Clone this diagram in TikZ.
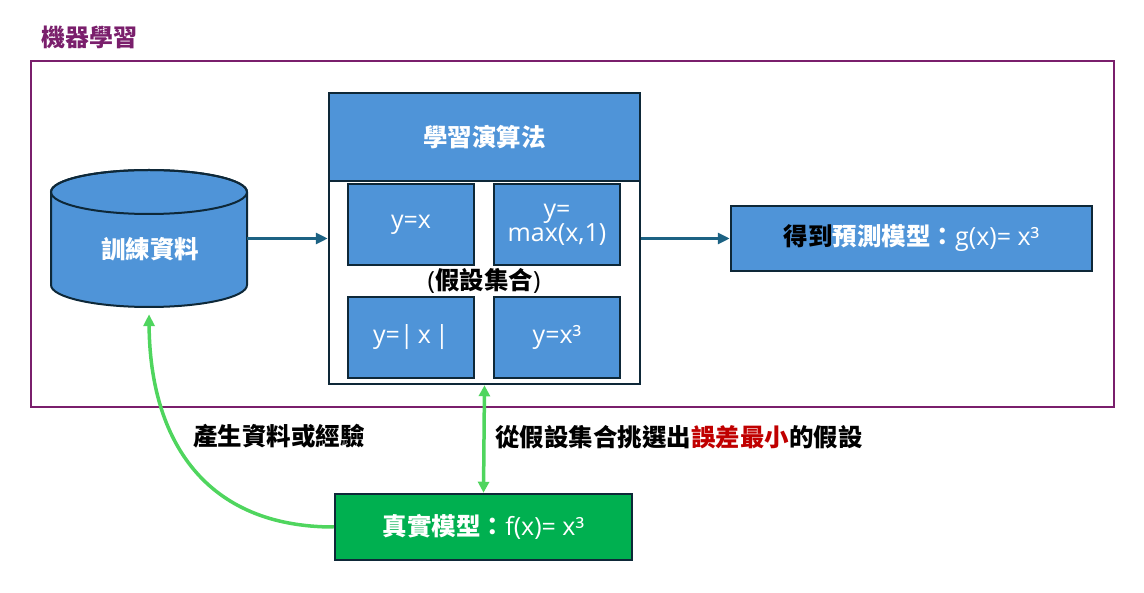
\documentclass[tikz,border=0pt]{standalone}
\usepackage{fontspec}
\setmainfont{Open Sans}
\newfontfamily\cjk{Noto Sans CJK TC}
\usetikzlibrary{arrows.meta,calc}
\definecolor{boxblue}{HTML}{4F94D8}
\definecolor{outl}{HTML}{0E2838}
\definecolor{purp}{HTML}{7A1F6C}
\definecolor{arrblue}{HTML}{1C6283}
\definecolor{lgreen}{HTML}{4FD55E}
\definecolor{dgreen}{HTML}{00B050}
\definecolor{errred}{HTML}{C00000}
\newcommand\cj{\fontsize{24.5}{28}\selectfont\cjk\bfseries}
\tikzset{
  bigtext/.style={font=\fontsize{25}{29}\selectfont},
  cjtext/.style={font=\cj},
  hbox/.style={draw=outl, line width=2.5pt, fill=boxblue, text=white, align=center, inner sep=0pt, bigtext},
  arrb/.style={draw=arrblue, line width=3pt, -{Triangle[length=12pt,width=11pt]}},
  arrg/.style={draw=lgreen, line width=3.5pt},
}
\begin{document}
\begin{tikzpicture}[x=1pt,y=-1pt]
\useasboundingbox (0,0) rectangle (1144,593);
% title and frame
\node[text=purp, font=\fontsize{24}{28}\selectfont\cjk\bfseries, anchor=west] (title) at (38,37) {機器學習};
\node[draw=purp, line width=2pt, minimum width=1083pt, minimum height=346pt, inner sep=0pt] (frame) at (572.5,234) {};
% cylinder
\node[minimum width=196pt, minimum height=137pt, inner sep=0pt] (db) at (149,238.5) {};
\filldraw[draw=outl, fill=boxblue, line width=2pt] (51,192) -- (51,285) arc[start angle=180, end angle=0, x radius=98, y radius=22] -- (247,192) arc[start angle=0, end angle=-180, x radius=98, y radius=22] -- cycle;
\draw[draw=outl, line width=2pt] (149,192) ellipse[x radius=98, y radius=22];
\node[text=white, cjtext] (dbt) at (150,249) {訓練資料};
% algorithm
\node[draw=outl, line width=2.5pt, fill=white, minimum width=311pt, minimum height=291pt, inner sep=0pt] (alg) at (484.5,238.5) {};
\node[hbox, minimum width=311pt, minimum height=88pt, cjtext] (hdr) at (484.5,137) {學習演算法};
\node[hbox, minimum width=126pt, minimum height=81pt] (h1) at (411,224.5) {y=x};
\node[hbox, minimum width=126pt, minimum height=81pt] (h2) at (557,224.5) {y=\\[-5pt]max(x,1)};
\node[hbox, minimum width=126pt, minimum height=81pt] (h3) at (411,337.5) {y=|\,x\,|};
\node[hbox, minimum width=126pt, minimum height=81pt] (h4) at (557,337.5) {y=x³};
\node[bigtext, inner sep=0pt] (set) at (484,281) {({\cj 假設集合})};
% prediction
\node[hbox, minimum width=361pt, minimum height=65pt] (pred) at (911.5,238.5) {{\cj\color{black}得到}{\cj 預測模型：}g(x)= x³};
% true model
\node[hbox, fill=dgreen, minimum width=297pt, minimum height=66pt] (true) at (483.5,527) {{\cj 真實模型：}f(x)= x³};
% connectors
\draw[arrb] (db.east) -- (alg.west);
\draw[arrb] (alg.east) -- (pred.west);
\draw[arrg, {Triangle[length=11pt,width=11pt]}-{Triangle[length=11pt,width=11pt]}] (alg.south) -- (true.north);
\draw[arrg, -{Triangle[length=12pt,width=11pt]}] (true.west) .. controls (205,527) and (150,440) .. ($(db.south)+(0,7)$);
% labels
\node[cjtext] (l1) at (279,436) {產生資料或經驗};
\node[cjtext, anchor=west, inner sep=0pt] (l2) at (495,437) {從假設集合挑選出{\color{errred}誤差最小}的假設};
\end{tikzpicture}
\end{document}
